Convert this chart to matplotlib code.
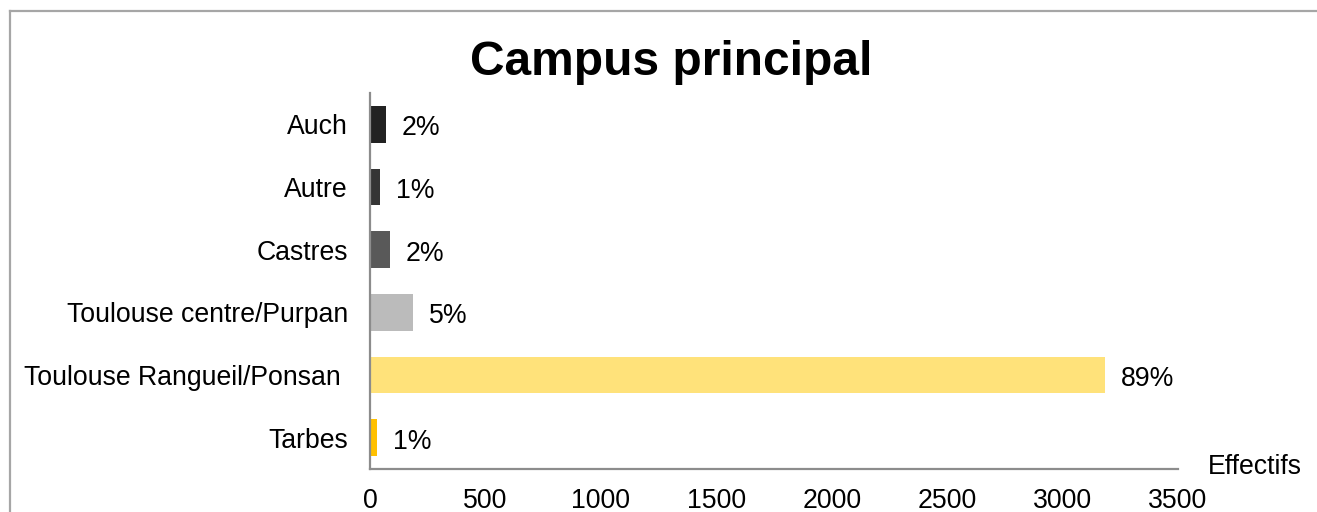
import matplotlib
matplotlib.use("Agg")
import matplotlib.pyplot as plt
from matplotlib.lines import Line2D

categories = ["Tarbes", "Toulouse Rangueil/Ponsan ", "Toulouse centre/Purpan", "Castres", "Autre", "Auch"]
values = [30, 3183, 186, 87, 43, 69]
pct_labels = ["1%", "89%", "5%", "2%", "1%", "2%"]
colors = ["#FFC000", "#FFE27A", "#BBBBBB", "#595959", "#353535", "#222222"]
xticks = [0, 500, 1000, 1500, 2000, 2500, 3000, 3500]

plt.rcParams['font.family'] = ['Liberation Sans', 'DejaVu Sans']

W, H = 1317, 512
FS = 19.2
fig = plt.figure(figsize=(W / 100, H / 100), dpi=100)
ax = fig.add_axes([370 / W, 1 - 469 / H, (1178 - 370) / W, (469 - 93) / H])

y = list(range(len(categories)))
ax.barh(y, values, height=0.58, color=colors)
for yi, v, p in zip(y, values, pct_labels):
    ax.annotate(p, (v, yi), xytext=(16, -4), textcoords="offset pixels",
                va="center", ha="left", fontsize=FS, color="black")

ax.set_xlim(0, 3500)
ax.set_ylim(-0.5, 5.5)
ax.set_yticks(y)
ax.set_yticklabels(categories, fontsize=FS)
ax.set_xticks(xticks)
ax.set_xticklabels([str(t) for t in xticks], fontsize=FS)
ax.tick_params(axis="y", length=0, pad=16)
ax.tick_params(axis="x", length=0, pad=14)
for s in ["top", "right"]:
    ax.spines[s].set_visible(False)
for s in ["left", "bottom"]:
    ax.spines[s].set_color("#8C8C8C")
    ax.spines[s].set_linewidth(1.6)

fig.text(1208 / W, 1 - 474 / H, "Effectifs", fontsize=FS, ha="left", va="baseline")

fig.text(671 / W, 1 - 75 / H, "Campus principal", fontsize=34.5, fontweight="bold",
         ha="center", va="baseline")

# outer chart frame (top and left visible)
fig.add_artist(Line2D([10 / W, 1.0], [1 - 11 / H, 1 - 11 / H], transform=fig.transFigure,
                      color="#A6A6A6", linewidth=1.6))
fig.add_artist(Line2D([10 / W, 10 / W], [1 - 11 / H, 0.0], transform=fig.transFigure,
                      color="#A6A6A6", linewidth=1.6))

fig.savefig("out.png", dpi=100)
